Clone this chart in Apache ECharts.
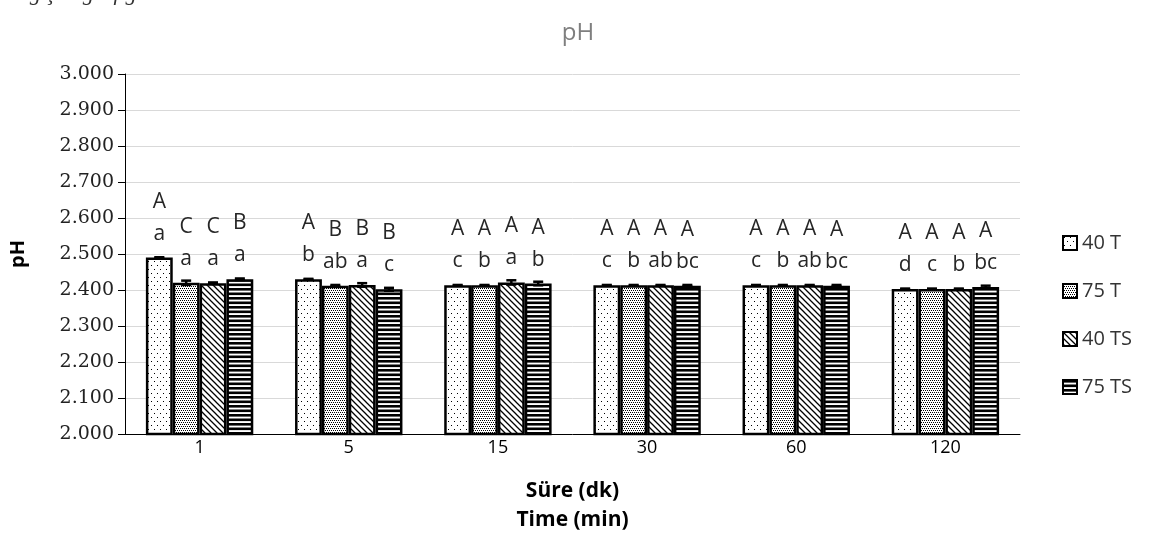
<!DOCTYPE html>
<html><head><meta charset="utf-8">
<script src="https://cdn.jsdelivr.net/npm/echarts@6/dist/echarts.min.js"></script>
<style>html,body{margin:0;padding:0;background:#fff}#c{width:1156px;height:553px}</style>
</head><body><div id="c"></div>
<script>
// ---- data ----
const categories = ['1', '5', '15', '30', '60', '120'];
const seriesNames = ['40 T', '75 T', '40 TS', '75 TS'];
const v40T  = [2.490, 2.430, 2.413, 2.413, 2.413, 2.403];
const v75T  = [2.420, 2.412, 2.413, 2.413, 2.413, 2.403];
const v40TS = [2.419, 2.414, 2.421, 2.413, 2.413, 2.403];
const v75TS = [2.430, 2.402, 2.418, 2.412, 2.412, 2.408];
const e40T  = [0.001, 0.001, 0.001, 0.001, 0.001, 0.001];
const e75T  = [0.006, 0.002, 0.001, 0.001, 0.001, 0.001];
const e40TS = [0.002, 0.005, 0.006, 0.001, 0.001, 0.001];
const e75TS = [0.002, 0.004, 0.005, 0.002, 0.002, 0.004];
const up40T  = ['A', 'A', 'A', 'A', 'A', 'A'];
const lo40T  = ['a', 'b', 'c', 'c', 'c', 'd'];
const up75T  = ['C', 'B', 'A', 'A', 'A', 'A'];
const lo75T  = ['a', 'ab', 'b', 'b', 'b', 'c'];
const up40TS = ['C', 'B', 'A', 'A', 'A', 'A'];
const lo40TS = ['a', 'a', 'a', 'ab', 'ab', 'b'];
const up75TS = ['B', 'B', 'A', 'A', 'A', 'A'];
const lo75TS = ['a', 'c', 'b', 'bc', 'bc', 'bc'];
const yMin = 2.0, yMax = 3.0, yInterval = 0.1;
const titleText = 'pH';
const yName = 'pH';
const xName = 'Süre (dk)\nTime (min)';
const headerText = 'Değişim grafiği in the chart obtained';

const values = [v40T, v75T, v40TS, v75TS];
const errors = [e40T, e75T, e40TS, e75TS];
const uppers = [up40T, up75T, up40TS, up75TS];
const lowers = [lo40T, lo75T, lo40TS, lo75TS];

// ---- patterns ----
function makePattern(kind) {
  const c = document.createElement('canvas');
  let ctx;
  if (kind === 'dots') {
    c.width = 6; c.height = 8; ctx = c.getContext('2d');
    ctx.fillStyle = '#fff'; ctx.fillRect(0, 0, 6, 8);
    ctx.fillStyle = '#000'; ctx.fillRect(1, 1, 1, 1); ctx.fillRect(4, 5, 1, 1);
  } else if (kind === 'dense') {
    c.width = 4; c.height = 4; ctx = c.getContext('2d');
    ctx.fillStyle = '#fff'; ctx.fillRect(0, 0, 4, 4);
    ctx.fillStyle = '#000';
    ctx.fillRect(0, 0, 1, 1); ctx.fillRect(2, 0, 1, 1);
    ctx.fillRect(1, 2, 1, 1); ctx.fillRect(3, 2, 1, 1);
  } else if (kind === 'diag') {
    c.width = 6; c.height = 6; ctx = c.getContext('2d');
    ctx.fillStyle = '#fff'; ctx.fillRect(0, 0, 6, 6);
    ctx.strokeStyle = '#000'; ctx.lineWidth = 1.3;
    ctx.beginPath();
    ctx.moveTo(-1, -1); ctx.lineTo(7, 7);
    ctx.moveTo(-4, 2); ctx.lineTo(4, 10);
    ctx.moveTo(2, -4); ctx.lineTo(10, 4);
    ctx.stroke();
  } else {
    c.width = 4; c.height = 9; ctx = c.getContext('2d');
    ctx.fillStyle = '#fff'; ctx.fillRect(0, 0, 4, 9);
    ctx.fillStyle = '#000'; ctx.fillRect(0, 0, 4, 2.6); ctx.fillRect(0, 4.5, 4, 2.6);
  }
  return { image: c, repeat: 'repeat' };
}
const patterns = [makePattern('dots'), makePattern('dense'), makePattern('diag'), makePattern('hstripe')];

const CAT_GAP = 0.28;
const labelFont = '"Open Sans", "Noto Sans", sans-serif';

const barSeries = seriesNames.map((name, si) => ({
  name: name,
  type: 'bar',
  barGap: '0%',
  barCategoryGap: (CAT_GAP * 100) + '%',
  data: values[si].map((v, ci) => ({ value: v, up: uppers[si][ci], lo: lowers[si][ci] })),
  itemStyle: { color: patterns[si], borderColor: '#000', borderWidth: 2.5 },
  emphasis: { disabled: true },
  label: {
    show: true, position: 'top', distance: 8,
    formatter: p => '{u|' + p.data.up + '}\n{l|' + p.data.lo + '}',
    rich: {
      u: { fontSize: 21, lineHeight: 32, color: '#262626', fontFamily: labelFont },
      l: { fontSize: 21, lineHeight: 32, color: '#262626', fontFamily: labelFont }
    }
  },
  z: 2
}));

const errData = [];
seriesNames.forEach((n, si) => {
  values[si].forEach((v, ci) => errData.push([ci, v, errors[si][ci], si]));
});

const errSeries = {
  type: 'custom',
  name: 'err',
  data: errData,
  z: 5,
  silent: true,
  encode: { x: 0, y: 1 },
  renderItem: function (params, api) {
    const ci = api.value(0), v = api.value(1), e = api.value(2), si = api.value(3);
    const center = api.coord([ci, v]);
    const band = api.size([1, 0])[0];
    const bw = band * (1 - CAT_GAP) / 4;
    const x = center[0] - 2 * bw + bw * (si + 0.5);
    const yTop = api.coord([ci, v + e])[1];
    const yBot = api.coord([ci, v - e])[1];
    const cap = 5;
    const st = { stroke: '#000', lineWidth: 2.5 };
    return {
      type: 'group',
      children: [
        { type: 'line', shape: { x1: x, y1: yTop, x2: x, y2: yBot }, style: st },
        { type: 'line', shape: { x1: x - cap, y1: yTop, x2: x + cap, y2: yTop }, style: st },
        { type: 'line', shape: { x1: x - cap, y1: yBot, x2: x + cap, y2: yBot }, style: st }
      ]
    };
  }
};

const chart = echarts.init(document.getElementById('c'), null, { renderer: 'canvas' });
chart.setOption({
  animation: false,
  backgroundColor: '#fff',
  title: {
    text: titleText, left: 'center', top: 16,
    textStyle: { fontSize: 24, fontWeight: 'normal', color: '#7f7f7f', fontFamily: labelFont }
  },
  graphic: [{
    type: 'text', left: 4, top: -17,
    style: { text: headerText, font: 'italic 22px "Liberation Serif", serif', fill: '#333' }
  }],
  legend: {
    data: seriesNames, orient: 'vertical', left: 1057, top: 228,
    itemWidth: 14, itemHeight: 14, itemGap: 28, icon: 'rect',
    textStyle: { fontSize: 20, color: '#333', fontFamily: labelFont },
    selectedMode: false
  },
  grid: { left: 125, right: 136, top: 74, bottom: 119, containLabel: false },
  xAxis: {
    type: 'category', data: categories,
    axisLine: { lineStyle: { color: '#000', width: 1 } },
    axisTick: { show: false },
    axisLabel: { fontSize: 18, color: '#000', margin: 5, fontFamily: labelFont },
    name: xName, nameLocation: 'middle', nameGap: 43,
    nameTextStyle: { fontSize: 21, fontWeight: 'bold', lineHeight: 29, color: '#000', fontFamily: labelFont }
  },
  yAxis: {
    type: 'value', min: yMin, max: yMax, interval: yInterval,
    axisLine: { show: true, lineStyle: { color: '#000', width: 1 } },
    axisTick: { show: true, inside: false, length: 7, lineStyle: { color: '#000' } },
    splitLine: { lineStyle: { color: '#d9d9d9', width: 1 } },
    axisLabel: {
      formatter: v => v.toFixed(3), fontSize: 19, color: '#222', margin: 11,
      fontFamily: '"DejaVu Serif", serif'
    },
    name: yName, nameLocation: 'middle', nameGap: 97, nameRotate: 90,
    nameTextStyle: { fontSize: 20, fontWeight: 'bold', color: '#000', fontFamily: labelFont }
  },
  series: barSeries.concat([errSeries])
});
</script>
</body></html>
